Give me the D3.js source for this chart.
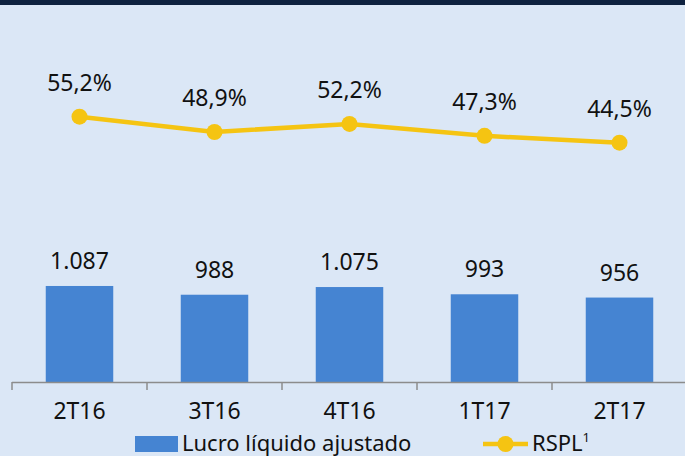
<!DOCTYPE html>
<html>
<head>
<meta charset="utf-8">
<script src="https://cdn.jsdelivr.net/npm/d3@7"></script>
<style>
  html, body { margin: 0; padding: 0; background: #dbe7f6; }
  svg { display: block; font-family: "Noto Sans", "Open Sans", sans-serif; }
</style>
</head>
<body>
<div id="chart"></div>
<script>
// quarters, adjusted net income (R$ mi) and ROE (%)
var quarters = ["2T16", "3T16", "4T16", "1T17", "2T17"];
var lucro = [1087, 988, 1075, 993, 956];
var rspl = [55.2, 48.9, 52.2, 47.3, 44.5];
var legendLabels = ["Lucro líquido ajustado", "RSPL"];

var width = 685, height = 456;
var barColor = "#4584d2", lineColor = "#f5c412";

// brazilian number format
var ptBR = d3.formatLocale({ decimal: ",", thousands: ".", grouping: [3], currency: ["R$", ""] });
var fmtInt = ptBR.format(",d");
var fmtPct = ptBR.format(".1f");

var svg = d3.select("#chart")
    .append("svg")
    .attr("width", width)
    .attr("height", height);

svg.append("rect")
    .attr("width", width).attr("height", height)
    .attr("fill", "#dbe7f6");

// dark band on top
svg.append("rect")
    .attr("width", width).attr("height", 5)
    .attr("fill", "#0e2240");

var x = d3.scaleBand()
    .domain(quarters)
    .range([12, 687])
    .paddingInner(0.5)
    .paddingOuter(0.25);

// bars
var yBar = d3.scaleLinear()
    .domain([0, 3000])
    .range([382, 117]);

// line
var yLine = d3.scaleLinear()
    .domain([0, 60])
    .range([250.8, 105]);

svg.selectAll("rect.bar")
    .data(lucro)
    .enter()
    .append("rect")
    .attr("class", "bar")
    .attr("x", function (d, i) { return x(quarters[i]); })
    .attr("y", function (d) { return yBar(d); })
    .attr("width", x.bandwidth())
    .attr("height", function (d) { return yBar(0) - yBar(d); })
    .attr("fill", barColor);

svg.selectAll("text.barlabel")
    .data(lucro)
    .enter()
    .append("text")
    .attr("class", "barlabel")
    .attr("x", function (d, i) { return x(quarters[i]) + x.bandwidth() / 2; })
    .attr("y", function (d) { return yBar(d) - 17; })
    .attr("text-anchor", "middle")
    .attr("font-size", 23)
    .attr("fill", "#111")
    .text(function (d) { return fmtInt(d); });

// x axis: labels only, boundary ticks drawn below
var axis = svg.append("g")
    .attr("transform", "translate(0,382)")
    .call(d3.axisBottom(x).tickSize(0).tickPadding(0));
axis.select(".domain").remove();
axis.selectAll("text")
    .attr("y", 37)
    .attr("dy", 0)
    .attr("font-size", 23)
    .attr("font-family", "Noto Sans, Open Sans, sans-serif")
    .attr("fill", "#111");

var step = x.step();
var bounds = d3.range(quarters.length + 1).map(function (i) { return x.range()[0] + i * step; });

svg.append("line")
    .attr("x1", bounds[0]).attr("x2", bounds[bounds.length - 1])
    .attr("y1", 382.5).attr("y2", 382.5)
    .attr("stroke", "#8c8c8c")
    .attr("stroke-width", 1.5);

svg.selectAll("line.tick")
    .data(bounds)
    .enter()
    .append("line")
    .attr("class", "tick")
    .attr("x1", function (d) { return d; }).attr("x2", function (d) { return d; })
    .attr("y1", 382).attr("y2", 390)
    .attr("stroke", "#8c8c8c")
    .attr("stroke-width", 1.5);

// RSPL line
var cx = function (d, i) { return x(quarters[i]) + x.bandwidth() / 2; };
var line = d3.line()
    .x(cx)
    .y(function (d) { return yLine(d); });

svg.append("path")
    .datum(rspl)
    .attr("d", line)
    .attr("fill", "none")
    .attr("stroke", lineColor)
    .attr("stroke-width", 4.5);

svg.selectAll("circle.pt")
    .data(rspl)
    .enter()
    .append("circle")
    .attr("class", "pt")
    .attr("cx", cx)
    .attr("cy", function (d) { return yLine(d); })
    .attr("r", 8)
    .attr("fill", lineColor);

svg.selectAll("text.pctlabel")
    .data(rspl)
    .enter()
    .append("text")
    .attr("class", "pctlabel")
    .attr("x", cx)
    .attr("y", function (d) { return yLine(d) - 26; })
    .attr("text-anchor", "middle")
    .attr("font-size", 23)
    .attr("fill", "#111")
    .text(function (d) { return fmtPct(d) + "%"; });

// legend
var leg = svg.append("g");
leg.append("rect")
    .attr("x", 135).attr("y", 436)
    .attr("width", 43).attr("height", 16)
    .attr("fill", barColor);
leg.append("text")
    .attr("x", 182).attr("y", 451)
    .attr("font-size", 22)
    .attr("fill", "#111")
    .text(legendLabels[0]);

leg.append("line")
    .attr("x1", 483).attr("x2", 528)
    .attr("y1", 444).attr("y2", 444)
    .attr("stroke", lineColor)
    .attr("stroke-width", 4.5);
leg.append("circle")
    .attr("cx", 505.5).attr("cy", 444)
    .attr("r", 8)
    .attr("fill", lineColor);
var t = leg.append("text")
    .attr("x", 532).attr("y", 451)
    .attr("font-size", 22)
    .attr("fill", "#111")
    .text(legendLabels[1]);
t.append("tspan")
    .attr("dy", -9)
    .attr("font-size", 13)
    .text("1");
</script>
</body>
</html>
